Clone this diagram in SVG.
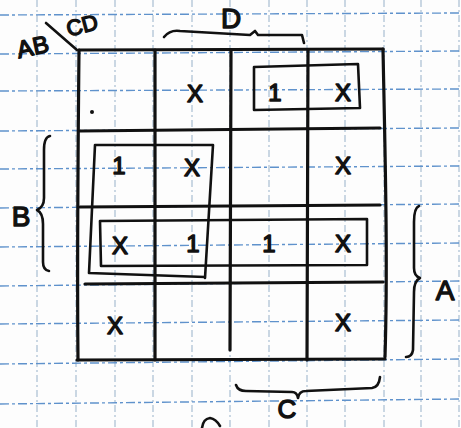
<svg xmlns="http://www.w3.org/2000/svg" width="461" height="428" viewBox="0 0 461 428">
<style>
.gv{stroke:#a9bfd2;stroke-width:1.2;stroke-dasharray:7 3 2 3;fill:none}
.gh{stroke:#5f92cc;stroke-width:1.4;stroke-dasharray:9 3 3 3;fill:none}
.ink{stroke:#111;stroke-width:3.2;fill:none;stroke-linecap:round;stroke-linejoin:round}
.inkt{stroke:#111;stroke-width:2.6;fill:none;stroke-linecap:round;stroke-linejoin:round}
.t{font-family:"Liberation Sans",Arial,sans-serif;fill:#111;text-anchor:middle;stroke:#111;stroke-width:1.4;stroke-linejoin:round}
.x{font-size:24px}
.one{font-size:24px}
.lab{font-size:28px}
</style>
<rect width="461" height="428" fill="#fdfdfd"/>
<g id="paper">
<path class="gv" d="M37,0V428M76,0V428M115,0V428M153,0V428M192,0V428M230,0V428M269,0V428M307,0V428M345,0V428M384,0V428M421,0V428M459,0V428"/>
<path class="gh" d="M0,15L461,13M0,54L461,51M0,91L461,89M0,131L461,128M0,169L461,166M0,208L461,204M0,247L461,243M0,286L461,281M0,324L461,320M0,364L461,359M0,404L461,399"/>
</g>
<g id="kmap">
<path class="ink" d="M79,50L383,49M80,131L380,128M80,207L380,205M85,284L383,282M77,360L385,359"/>
<path class="ink" d="M79,50C78,150 77,260 78,360M155,50L155,360M231,50L230,350M308,50L307,360M383,49C385,150 388,260 385,357"/>
</g>
<g id="cells">
<circle cx="92" cy="112" r="2" fill="#111"/>
<text class="t x" x="195" y="102">X</text>
<text class="t one" x="275" y="101">1</text>
<text class="t x" x="343" y="101">X</text>
<text class="t one" x="119" y="174">1</text>
<text class="t x" x="192" y="176">X</text>
<text class="t x" x="343" y="174">X</text>
<text class="t x" x="120" y="254">X</text>
<text class="t one" x="193" y="252">1</text>
<text class="t one" x="269" y="252">1</text>
<text class="t x" x="343" y="252">X</text>
<text class="t x" x="115" y="334">X</text>
<text class="t x" x="343" y="331">X</text>
</g>
<g id="loops">
<path class="inkt" d="M254,67L358,64L360,108L254,110Z"/>
<path class="inkt" d="M95,145L213,145L205,278M205,277L89,273L95,145"/>
<path class="inkt" d="M100,221L367,219L367,265L101,266Z"/>
</g>
<g id="labels">
<text class="t" style="font-size:24px" x="33" y="55" transform="rotate(-12 33 48)">AB</text>
<path class="inkt" d="M46,23L77,50"/>
<text class="t" style="font-size:22px" x="82" y="33" transform="rotate(-15 82 25)">CD</text>
<text class="t lab" x="231" y="28">D</text>
<path class="inkt" d="M164,37C168,32 173,30 180,31L250,35L255,31L258,35L302,35L304,43"/>
<text class="t lab" x="21" y="226">B</text>
<path class="inkt" d="M50,136Q44,137 44,150L44,198Q44,207 37,210Q43,213 43,224L43,262Q43,270 49,271"/>
<text class="t lab" x="445" y="300">A</text>
<path class="inkt" d="M419,206Q414,208 414,222L414,268Q414,276 420,278Q414,281 414,292L413,350Q412,357 406,357"/>
<text class="t" style="font-size:26px" x="287" y="418">C</text>
<path class="inkt" d="M236,385Q238,391 246,391L292,392Q297,392 298,398Q299,391 306,391L372,388Q379,387 380,377"/>
<path class="inkt" d="M202,428Q203,419 210,418Q216,419 220,426"/>
</g>
</svg>
